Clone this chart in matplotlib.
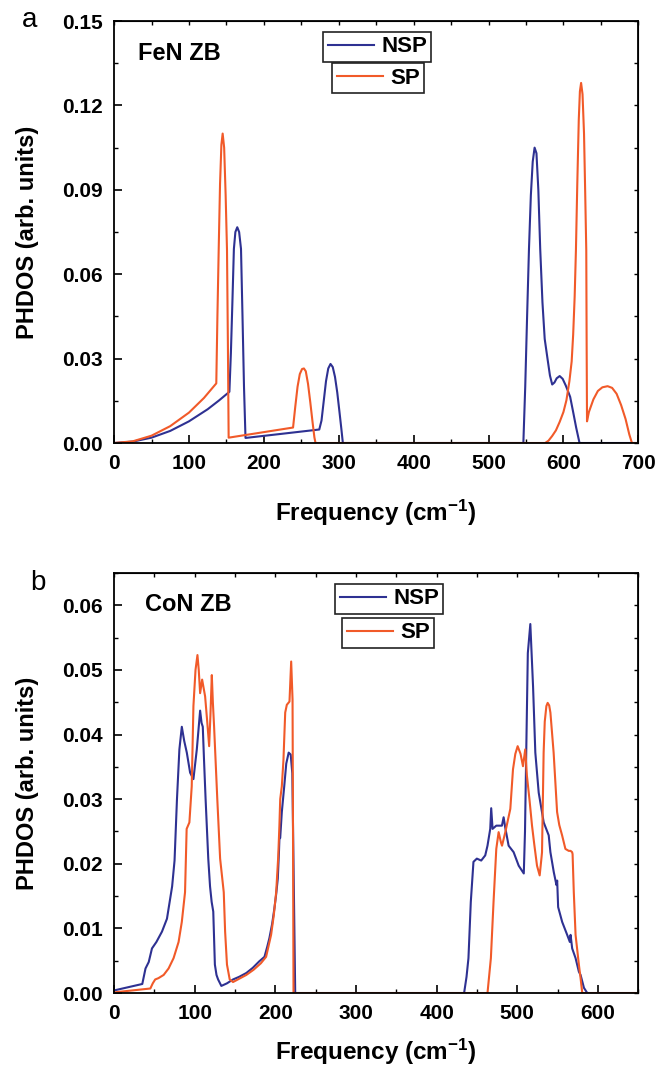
import numpy as np
import matplotlib
matplotlib.use("Agg")
import matplotlib.pyplot as plt
from matplotlib.lines import Line2D
from matplotlib.ticker import MultipleLocator

plt.rcParams['font.family'] = ['Liberation Sans', 'DejaVu Sans']
plt.rcParams['font.weight'] = 'bold'
plt.rcParams['mathtext.fontset'] = 'custom'
plt.rcParams['mathtext.rm'] = 'Liberation Sans:bold'
plt.rcParams['mathtext.bf'] = 'Liberation Sans:bold'
plt.rcParams['mathtext.default'] = 'bf'

# ---- panel a: FeN ZB ----
fen_nsp_x = [0, 25, 50, 75, 100, 125, 140, 154, 156, 158, 160, 162, 164.5, 167, 169.5, 171.5,
             173.5, 175.5, 225, 274, 277, 280, 283, 286, 289, 292, 295, 298, 301, 303.5, 305.5,
             546.5, 549, 551.5, 554, 556.5, 559, 561.5, 564, 566.5, 569, 572, 575, 579, 582, 585,
             588, 591, 595, 599, 603, 606, 609, 613, 617, 621.5, 700]
fen_nsp_y = [0, 0.0005, 0.0019, 0.0043, 0.0077, 0.012, 0.0151, 0.0182, 0.032, 0.05, 0.069, 0.075,
             0.0767, 0.075, 0.069, 0.045, 0.02, 0.0018, 0.0033, 0.0048, 0.008, 0.015, 0.022, 0.0265,
             0.0281, 0.027, 0.0235, 0.018, 0.011, 0.005, 0,
             0, 0.02, 0.045, 0.069, 0.088, 0.1, 0.105, 0.103, 0.09, 0.069, 0.05, 0.037, 0.0295,
             0.024, 0.0208, 0.0215, 0.023, 0.0238, 0.0228, 0.0205, 0.0185, 0.0164, 0.011, 0.0055,
             0, 0]

fen_sp_x = [0, 25, 50, 75, 100, 120, 136.5, 138, 139.7, 141.5, 143.3, 145, 147, 149, 150.8, 152,
            153, 196, 239, 242, 245, 248, 251, 253.5, 256, 259, 262, 265, 267.5, 269,
            575.5, 580, 585, 590, 595, 600, 604, 608, 611, 613, 615, 616.7, 618.5, 620.5, 622,
            623.6, 625.5, 627.5, 629, 630.5, 631, 631.5, 634, 640, 646, 652, 659, 665, 671, 677,
            683, 688, 691.5, 700]
fen_sp_y = [0, 0.0006, 0.0026, 0.006, 0.0108, 0.016, 0.0212, 0.045, 0.0686, 0.092, 0.106, 0.11,
            0.105, 0.088, 0.0686, 0.035, 0.0019, 0.0037, 0.0055, 0.013, 0.02, 0.0245, 0.0263,
            0.0265, 0.0255, 0.021, 0.0145, 0.0075, 0.002, 0,
            0, 0.0008, 0.0025, 0.0045, 0.0075, 0.011, 0.0152, 0.022, 0.029, 0.0385, 0.052, 0.0686,
            0.092, 0.115, 0.125, 0.128, 0.124, 0.11, 0.09, 0.0686, 0.035, 0.0077, 0.011, 0.0155,
            0.0185, 0.0198, 0.0202, 0.0196, 0.0175, 0.0135, 0.0085, 0.003, 0, 0]

# ---- panel b: CoN ZB ----
con_nsp_x = [0, 35, 39, 43, 47, 52.5, 59.4, 65.6, 72, 75, 78, 81, 84, 87, 90.2, 94.3, 98.4, 102.6,
             106.7, 108.5, 110, 111.5, 113.5, 116.8, 119, 121, 123, 125, 127, 129, 133, 140, 147.5,
             155, 164, 172, 180, 186.5, 190, 192.6, 196, 198.8, 201, 203, 204.5, 205, 206, 208,
             211, 213.5, 216.5, 219, 221, 222.5, 224.6,
             434, 437, 439.4, 442.3, 445.6, 449.8, 455.2, 460.2, 463, 466.4, 467.6, 469.3, 473.9,
             480.9, 483, 485, 489.2, 495.4, 501.7, 508, 509.5, 511, 513, 516.1, 519.5, 522.3,
             526.5, 532.7, 538.9, 541, 545.2, 548.5, 549.4, 550.6, 555.6, 561.8, 565.1, 566, 568,
             572.2, 576.3, 578.4, 582.6, 586.7, 650]
con_nsp_y = [0.0004, 0.0014, 0.0038, 0.0048, 0.0069, 0.0079, 0.0095, 0.0115, 0.0165, 0.0205, 0.03,
             0.0377, 0.0412, 0.039, 0.0372, 0.0341, 0.0331, 0.0377, 0.0437, 0.0418, 0.0412, 0.0362,
             0.03, 0.0208, 0.0165, 0.0141, 0.0126, 0.0044, 0.0028, 0.0021, 0.0011, 0.0015, 0.0021,
             0.0025, 0.0031, 0.0039, 0.0049, 0.0056, 0.0072, 0.0085, 0.0107, 0.0131, 0.0153,
             0.0177, 0.022, 0.0238, 0.024, 0.028, 0.032, 0.0355, 0.0372, 0.0369, 0.034, 0.02, 0,
             0, 0.0025, 0.0054, 0.0141, 0.0203, 0.0208, 0.0205, 0.0213, 0.0228, 0.0254, 0.0286,
             0.0254, 0.0259, 0.0259, 0.0272, 0.0256, 0.0228, 0.0218, 0.0197, 0.0185, 0.025, 0.037,
             0.0526, 0.0571, 0.0474, 0.0372, 0.031, 0.0264, 0.0244, 0.0218, 0.0187, 0.0167,
             0.0174, 0.0133, 0.011, 0.009, 0.0079, 0.009, 0.0069, 0.0054, 0.0033, 0.0028, 0.0008,
             0, 0]

con_sp_x = [0, 45, 48, 51, 55, 61.5, 67.6, 73.8, 80, 84, 88, 90, 93.4, 96.3, 98.4, 101, 103.4,
            105, 106.7, 109.2, 112.9, 115.5, 117.9, 119.5, 121.2, 122.5, 124, 128, 131.5, 136,
            137.7, 140, 143.4, 147.5, 155, 164, 173, 182, 188.5, 194.7, 198, 201, 203.5, 205,
            206, 208, 210, 212.2, 214.2, 217.5, 219.6, 221.3, 222, 222.5,
            463, 467.2, 470.5, 473.9, 476.8, 479.7, 481, 485.1, 491.3, 494.6, 497.5, 500.4, 504,
            507, 509.8, 511.9, 515, 518.2, 521, 524.4, 527.7, 530, 530.6, 532.6, 534, 536, 537.6,
            539.5, 541, 545, 549.3, 552, 555.5, 559.6, 563.7, 566, 567.9, 568.5, 570, 572.2,
            576.3, 578.4, 580.5, 650]
con_sp_y = [0.0001, 0.0007, 0.0015, 0.0021, 0.0023, 0.0028, 0.0038, 0.0054, 0.0079, 0.011, 0.0156,
            0.0254, 0.0264, 0.032, 0.0444, 0.05, 0.0523, 0.05, 0.0464, 0.0485, 0.0459, 0.042,
            0.0382, 0.043, 0.0492, 0.045, 0.0413, 0.03, 0.0208, 0.0156, 0.0095, 0.0044, 0.0021,
            0.0017, 0.0022, 0.0028, 0.0036, 0.0046, 0.0056, 0.009, 0.012, 0.0156, 0.021, 0.0259,
            0.03, 0.032, 0.036, 0.0434, 0.0446, 0.0451, 0.0513, 0.0454, 0.02, 0,
            0, 0.0054, 0.0141, 0.0223, 0.0249, 0.0233, 0.0228, 0.0249, 0.0285, 0.0346, 0.037,
            0.0382, 0.037, 0.0351, 0.0377, 0.0336, 0.03, 0.0259, 0.023, 0.0197, 0.0182, 0.021,
            0.0218, 0.0372, 0.042, 0.0444, 0.0449, 0.0445, 0.0434, 0.0372, 0.028, 0.026, 0.0244,
            0.0223, 0.022, 0.022, 0.0218, 0.0215, 0.0156, 0.009, 0.0044, 0.0023, 0, 0]

NSP_COLOR = '#2E3192'
SP_COLOR = '#F15A29'

fig = plt.figure(figsize=(6.67, 10.68), dpi=100)
ax1 = fig.add_axes([0.171, 0.5852, 0.786, 0.3951])
ax2 = fig.add_axes([0.171, 0.0702, 0.786, 0.3933])


def style_axis(ax, xmax, ymax, ymajor, yminor, xticks):
    ax.set_xlim(0, xmax)
    ax.set_ylim(0, ymax)
    ax.xaxis.set_major_locator(MultipleLocator(100))
    ax.xaxis.set_minor_locator(MultipleLocator(50))
    ax.yaxis.set_major_locator(MultipleLocator(ymajor))
    ax.yaxis.set_minor_locator(MultipleLocator(yminor))
    ax.tick_params(which='major', direction='in', length=6, width=1.2, labelsize=15, pad=8)
    ax.tick_params(which='minor', direction='in', length=3, width=1.0)
    for s in ax.spines.values():
        s.set_linewidth(1.3)
    # short ticks on top and right
    top = ax.secondary_xaxis('top')
    top.set_xticks(xticks)
    top.tick_params(direction='in', length=3, width=1.0, labeltop=False)
    right = ax.secondary_yaxis('right')
    right.set_yticks(np.arange(0, ymax + 1e-9, yminor))
    right.tick_params(direction='in', length=3, width=1.0, labelright=False)
    ax.set_ylabel('PHDOS (arb. units)', fontsize=17, fontweight='bold')
    ax.set_xlabel(r'Frequency (cm$^{-1}$)', fontsize=17.5, fontweight='bold')


def add_legends(ax, nsp_anchor, sp_anchor):
    h_nsp = Line2D([], [], color=NSP_COLOR, lw=1.5)
    h_sp = Line2D([], [], color=SP_COLOR, lw=1.5)
    kw = dict(loc='upper left', fancybox=False, framealpha=1, edgecolor='#222222',
              borderaxespad=0, borderpad=0.2, handlelength=2.1, handletextpad=0.3,
              prop={'weight': 'bold', 'size': 16})
    leg1 = ax.legend([h_nsp], ['NSP'], bbox_to_anchor=nsp_anchor, **kw)
    leg1.get_frame().set_linewidth(1.2)
    ax.add_artist(leg1)
    leg2 = ax.legend([h_sp], ['SP'], bbox_to_anchor=sp_anchor, **kw)
    leg2.get_frame().set_linewidth(1.2)


# panel a
ax1.plot(fen_nsp_x, fen_nsp_y, color=NSP_COLOR, lw=1.5)
ax1.plot(fen_sp_x, fen_sp_y, color=SP_COLOR, lw=1.5)
style_axis(ax1, 700, 0.15, 0.03, 0.015, np.arange(0, 701, 50))
ax1.text(0.046, 0.924, 'FeN ZB', transform=ax1.transAxes, fontsize=17,
         fontweight='bold', va='center', ha='left')
add_legends(ax1, (0.399, 0.974), (0.416, 0.900))
ax1.xaxis.set_label_coords(0.5, -0.130)

# panel b
ax2.plot(con_nsp_x, con_nsp_y, color=NSP_COLOR, lw=1.5)
ax2.plot(con_sp_x, con_sp_y, color=SP_COLOR, lw=1.5)
style_axis(ax2, 650, 0.065, 0.01, 0.005, np.arange(0, 651, 50))
ax2.text(0.059, 0.924, 'CoN ZB', transform=ax2.transAxes, fontsize=17,
         fontweight='bold', va='center', ha='left')
add_legends(ax2, (0.422, 0.974), (0.435, 0.893))
ax2.xaxis.set_label_coords(0.5, -0.104)

for ax in (ax1, ax2):
    ax.yaxis.set_label_coords(-0.143, 0.5)

fig.text(0.045, 0.981, 'a', fontsize=20, fontweight='normal', ha='center', va='center')
fig.text(0.057, 0.454, 'b', fontsize=20, fontweight='normal', ha='center', va='center')

fig.savefig('out.png', dpi=100)
